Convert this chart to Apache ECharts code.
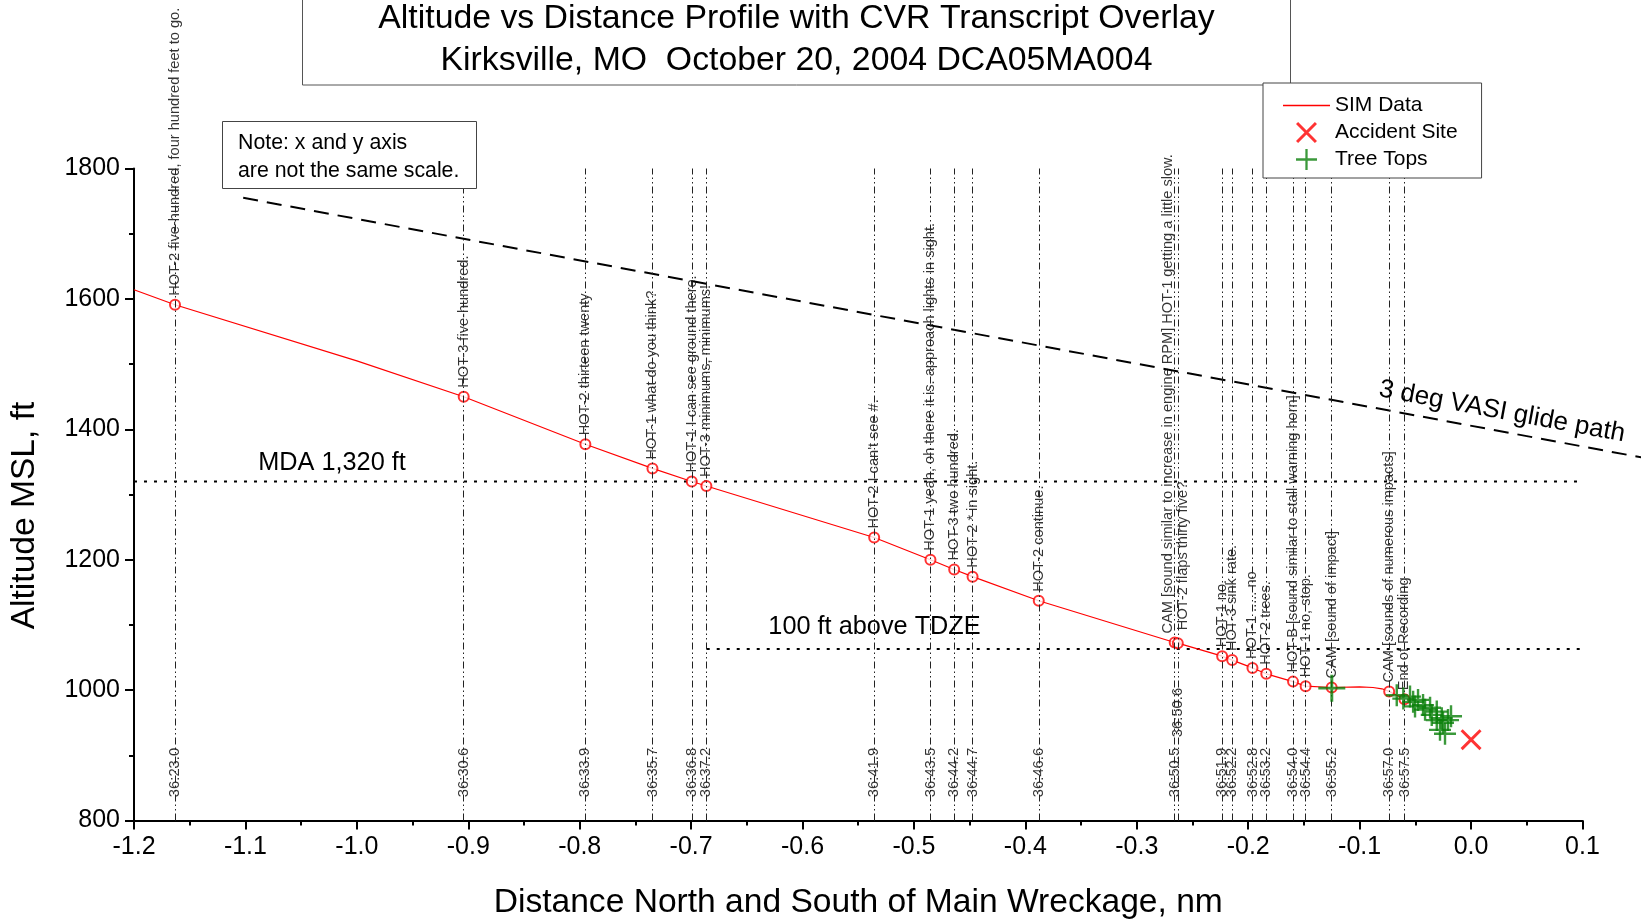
<!DOCTYPE html>
<html><head><meta charset="utf-8">
<script src="https://cdn.jsdelivr.net/npm/echarts@6/dist/echarts.min.js"></script>
<style>html,body{margin:0;padding:0;background:#fff}#c{width:1641px;height:921px}</style>
</head><body><div id="c"></div>
<script>
const FONT = '"Liberation Sans", Arial, Helvetica, sans-serif';

// CVR transcript events
const cvrTimes = ['36:23.0','36:30.6','36:33.9','36:35.7','36:36.8','36:37.2','36:41.9','36:43.5','36:44.2','36:44.7','36:46.6','36:50.5','36:50.6','36:51.9','36:52.2','36:52.8','36:53.2','36:54.0','36:54.4','36:55.2','36:57.0','36:57.5'];
const cvrDist = [-1.1632,-0.9041,-0.7949,-0.7347,-0.6994,-0.6863,-0.5357,-0.4852,-0.4639,-0.4474,-0.3880,-0.2660,-0.2632,-0.2234,-0.2144,-0.1962,-0.1838,-0.1598,-0.1485,-0.1251,-0.0735,-0.0598];
const cvrAlt = [1591,1450,1377,1340,1320,1313,1234,1200,1185,1174,1137,1073,1072,1052,1046,1034,1025,1013,1006,1004,998,986];
const cvrText = [
  'HOT-2 five-hundred, four hundred feet to go.',
  'HOT-3 five-hundred.',
  'HOT-2 thirteen twenty',
  'HOT-1 what do you think?',
  'HOT-1 I can see ground there.',
  'HOT-3 minimums, minimums!',
  'HOT-2 I can\'t see #.',
  'HOT-1 yeah, oh there it is. approach lights in sight.',
  'HOT-3 two hundred.',
  'HOT-2 * in sight.',
  'HOT-2 continue.',
  'CAM [sound similar to increase in engine RPM] HOT-1 getting a little slow.',
  'HOT-2 flaps thirty five?',
  'HOT-1 no.',
  'HOT-3 sink rate.',
  'HOT-1 ..... no',
  'HOT-2 trees.',
  'HOT-B [sound similar to stall warning horn]',
  'HOT-1 no, stop.',
  'CAM [sound of impact]',
  'CAM [sounds of numerous impacts]',
  'End of Recording'
];

// SIM data profile
const simDist = [-1.2,-1.1632,-1.0,-0.9041,-0.7949,-0.7347,-0.6994,-0.6863,-0.5357,-0.4852,-0.4639,-0.4474,-0.3880,-0.2660,-0.2632,-0.2234,-0.2144,-0.1962,-0.1838,-0.1598,-0.1485,-0.1251,-0.100,-0.088,-0.080,-0.0735,-0.0598];
const simAlt  = [1614,1591,1505,1450,1377,1340,1320,1313,1234,1200,1185,1174,1137,1073,1072,1052,1046,1034,1025,1013,1006,1004,1005,1004,1002,998,986];

// Tree tops
const treeDist = [-0.125,-0.0667,-0.0608,-0.0548,-0.052,-0.0476,-0.0503,-0.0431,-0.0413,-0.0368,-0.0353,-0.0308,-0.0308,-0.0263,-0.0252,-0.0207,-0.0279,-0.0234,-0.0180];
const treeAlt  = [1003,992,987,990,982,985,975,977,970,973,962,967,954,957,950,954,939,933,960];

// Accident site
const accDist = [0.0];
const accAlt = [924];

// Reference lines
const glideDist = [-1.102, 0.1526];
const glideAlt = [1755, 1357];
const mdaDist = [-1.2, 0.1];
const mdaAlt = [1320, 1320];
const tdzeDist = [-0.686, 0.1];
const tdzeAlt = [1063, 1063];

// Axis
const xMin = -1.2, xMax = 0.1, xStep = 0.1;
const yMin = 800, yMax = 1800, yStep = 200;

const PLUS = 'path://M9.8,0h2.4v9.8h9.8v2.4h-9.8v9.8h-2.4v-9.8h-9.8v-2.4h9.8z';
const CROSS = 'path://M0,1L1,0L10,9L9,10Z M9,0L10,1L1,10L0,9Z';
const LINEICON = 'path://M0,0h47v1.4h-47z';

const chart = echarts.init(document.getElementById('c'), null, {renderer: 'canvas'});

const pair = (a, b) => a.map((v, i) => [v, b[i]]);
const dashDot = [7, 3, 1.5, 3, 1.5, 3];

// label offsets are in the rotated (text) frame: [up, right]
const cvrPoints = cvrDist.map((d, i) => {
  const item = {value: [d, cvrAlt[i]]};
  if (i === 11) item.label = {offset: [0, -7]};
  if (i === 12) item.label = {offset: [4, 5]};
  return item;
});
const timeLabelAlt = 835;
const timePoints = cvrDist.map((d, i) => {
  const item = {value: [d, timeLabelAlt]};
  if (i === 12) item.label = {offset: [60, 0]};
  return item;
});
const treePoints = pair(treeDist, treeAlt).map((v, i) => (i === 0 ? {value: v, symbolSize: 27} : {value: v}));

const option = {
  animation: false,
  backgroundColor: '#fff',
  title: {
    text: 'Altitude vs Distance Profile with CVR Transcript Overlay\nKirksville, MO  October 20, 2004 DCA05MA004',
    left: 796.5, top: -2, textAlign: 'center', padding: 0, z: 20,
    textStyle: {fontFamily: FONT, fontSize: 33.8, fontWeight: 'normal', color: '#000', lineHeight: 41.5}
  },
  legend: {
    left: 1263, top: 83, orient: 'vertical',
    padding: [12, 24, 8, 20], itemGap: 6, itemWidth: 47, itemHeight: 21,
    backgroundColor: '#fff', borderColor: '#444', borderWidth: 1, borderRadius: 0,
    selectedMode: false, z: 30,
    textStyle: {fontFamily: FONT, fontSize: 21, color: '#000'},
    data: [{name: 'SIM Data', icon: LINEICON}, {name: 'Accident Site'}, {name: 'Tree Tops'}]
  },
  grid: {left: 134, right: 58.5, top: 168.5, bottom: 100.5, containLabel: false, outerBoundsMode: 'none'},
  xAxis: {
    type: 'value', min: xMin, max: xMax, interval: xStep,
    axisLine: {show: true, onZero: false, lineStyle: {color: '#000', width: 2}},
    axisTick: {show: true, inside: false, length: 9, lineStyle: {color: '#000', width: 2}},
    minorTick: {show: true, splitNumber: 2, length: 5, lineStyle: {color: '#000', width: 2}},
    splitLine: {show: false}, minorSplitLine: {show: false},
    axisLabel: {fontFamily: FONT, fontSize: 25, color: '#000', margin: 14,
      formatter: v => (Math.abs(v) < 1e-9 ? '0.0' : v.toFixed(1))},
    name: 'Distance North and South of Main Wreckage, nm', nameLocation: 'middle', nameGap: 65,
    nameTextStyle: {fontFamily: FONT, fontSize: 33.6, color: '#000'}
  },
  yAxis: {
    type: 'value', min: yMin, max: yMax, interval: yStep,
    axisLine: {show: true, onZero: false, lineStyle: {color: '#000', width: 2}},
    axisTick: {show: true, inside: false, length: 9, lineStyle: {color: '#000', width: 2}},
    minorTick: {show: true, splitNumber: 2, length: 5, lineStyle: {color: '#000', width: 2}},
    splitLine: {show: false}, minorSplitLine: {show: false},
    axisLabel: {fontFamily: FONT, fontSize: 25, color: '#000', margin: 14, formatter: v => String(v)},
    name: 'Altitude MSL, ft', nameLocation: 'middle', nameGap: 92,
    nameTextStyle: {fontFamily: FONT, fontSize: 33.6, color: '#000', padding: [0, 42, 0, 0]}
  },
  series: [
    { // CVR vertical event lines
      type: 'scatter', data: [], silent: true, z: 1,
      markLine: {
        silent: true, symbol: ['none', 'none'], animation: false, precision: 6,
        label: {show: false},
        lineStyle: {color: '#222', width: 1, type: dashDot},
        emphasis: {disabled: true},
        data: cvrDist.map(d => ({xAxis: d}))
      }
    },
    { type: 'line', data: pair(mdaDist, mdaAlt), symbol: 'none', silent: true, z: 2,
      lineStyle: {color: '#000', width: 2, type: [3, 7]} },
    { type: 'line', data: pair(tdzeDist, tdzeAlt), symbol: 'none', silent: true, z: 2,
      lineStyle: {color: '#000', width: 2, type: [3, 7]} },
    { name: 'SIM Data', type: 'line', data: pair(simDist, simAlt), symbol: 'none', silent: true, z: 3,
      itemStyle: {color: '#ff0000'}, lineStyle: {color: '#ff0000', width: 1.2} },
    { type: 'scatter', data: cvrPoints, symbol: 'emptyCircle', symbolSize: 10, silent: true, z: 4,
      itemStyle: {color: '#ff0000', borderColor: '#ff0000', borderWidth: 1.2},
      label: {show: true, position: 'top', distance: 3, rotate: 90, align: 'left', verticalAlign: 'middle',
        fontFamily: FONT, fontSize: 14.6, color: '#000',
        formatter: p => cvrText[p.dataIndex]} },
    { type: 'scatter', data: timePoints, symbolSize: 1, silent: true, z: 4,
      itemStyle: {color: 'rgba(0,0,0,0)'},
      label: {show: true, position: 'top', distance: 0, rotate: 90, align: 'left', verticalAlign: 'middle',
        fontFamily: FONT, fontSize: 14.8, color: '#000',
        formatter: p => cvrTimes[p.dataIndex]} },
    { name: 'Tree Tops', type: 'scatter', data: treePoints, symbol: PLUS, symbolSize: 22, silent: true, z: 5,
      itemStyle: {color: '#0a800a'} },
    { name: 'Accident Site', type: 'scatter', data: pair(accDist, accAlt), symbol: CROSS, symbolSize: 21, silent: true, z: 5,
      itemStyle: {color: '#ff0000'} }
  ]
};
chart.setOption(option);

const px = (x, y) => chart.convertToPixel({gridIndex: 0}, [x, y]);
const glidePts = glideDist.map((d, i) => px(d, glideAlt[i]));
const glidePos = px(0.0278, 1427);
const mdaPos = px(-1.0223, 1348);
const tdzePos = px(-0.5354, 1097);

chart.setOption({
  graphic: [
    {type: 'polyline', z: 3, silent: true, shape: {points: glidePts},
      style: {stroke: '#000', lineWidth: 2, lineDash: [15, 9], fill: null}},
    {type: 'rect', z: 10, shape: {x: 302.5, y: -1, width: 988, height: 86},
      style: {fill: '#fff', stroke: '#555', lineWidth: 1}},
    {type: 'rect', z: 40, shape: {x: 222.5, y: 121.5, width: 254, height: 67},
      style: {fill: '#fff', stroke: '#444', lineWidth: 1}},
    {type: 'text', z: 41, x: 238, y: 143.5,
      style: {text: 'Note: x and y axis', font: '21.3px ' + FONT, fill: '#000', textVerticalAlign: 'middle'}},
    {type: 'text', z: 41, x: 238, y: 171.5,
      style: {text: 'are not the same scale.', font: '21.3px ' + FONT, fill: '#000', textVerticalAlign: 'middle'}},
    {type: 'text', z: 41, x: glidePos[0], y: glidePos[1], rotation: -10.5 * Math.PI / 180,
      style: {text: '3 deg VASI glide path', font: '26px ' + FONT, fill: '#000', textAlign: 'center', textVerticalAlign: 'middle'}},
    {type: 'text', z: 41, x: mdaPos[0], y: mdaPos[1],
      style: {text: 'MDA 1,320 ft', font: '25.3px ' + FONT, fill: '#000', textAlign: 'center', textVerticalAlign: 'middle'}},
    {type: 'text', z: 41, x: tdzePos[0], y: tdzePos[1],
      style: {text: '100 ft above TDZE', font: '25.3px ' + FONT, fill: '#000', textAlign: 'center', textVerticalAlign: 'middle'}}
  ]
});
</script></body></html>
